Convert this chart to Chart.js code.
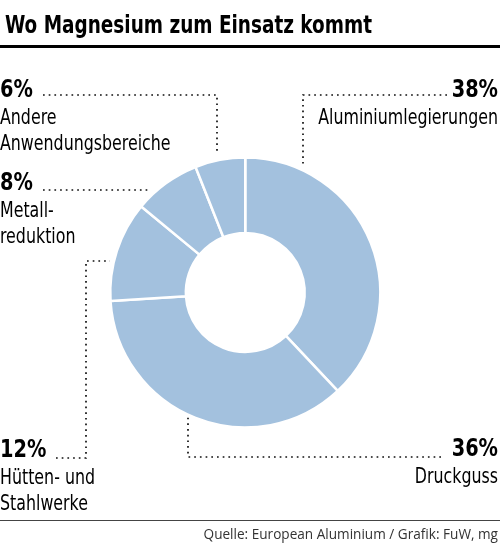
<!DOCTYPE html>
<html lang="de">
<head>
<meta charset="utf-8">
<script src="https://cdn.jsdelivr.net/npm/chart.js@4.4.1/dist/chart.umd.min.js"></script>
<style>
  html, body { margin: 0; padding: 0; background: #fff; }
  #wrap { position: relative; width: 500px; height: 545px; overflow: hidden; }
  #wrap canvas { position: absolute; left: 0; top: 0; }
  .title {
    position: absolute; left: 0; top: 0; width: 500px; height: 45px;
    border-bottom: 3px solid #000; box-sizing: content-box;
  }
  .title span {
    position: absolute; left: 5px; top: 12px;
    font: bold 25px/25px "Liberation Sans Narrow", "DejaVu Sans Condensed", sans-serif;
    color: #000; white-space: nowrap;
    transform: scaleX(0.82); transform-origin: 0 0;
  }
  .source {
    position: absolute; left: 0; top: 520px; width: 500px; height: 25px;
    border-top: 1.5px solid #444;
  }
  .source span {
    position: absolute; right: 2px; top: 6px;
    font: 13.6px/14px "Open Sans", sans-serif; color: #333; white-space: nowrap;
  }
</style>
</head>
<body>
<div id="wrap">
  <canvas id="magChart"></canvas>
  <div class="title"><span>Wo Magnesium zum Einsatz kommt</span></div>
  <div class="source"><span>Quelle: European Aluminium / Grafik: FuW, mg</span></div>
</div>
<script>
// Anteile in Prozent, im Uhrzeigersinn ab 12 Uhr
const categories = [
  ["Aluminiumlegierungen"],
  ["Druckguss"],
  ["Hütten- und", "Stahlwerke"],
  ["Metall-", "reduktion"],
  ["Andere", "Anwendungsbereiche"]
];
const shares = [38, 36, 12, 8, 6];

const sliceColor = "#a3c1de";
const narrow = '"Liberation Sans Narrow", "DejaVu Sans Condensed", sans-serif';

// Beschriftung + gepunktete Hinweislinien (Reihenfolge wie die Daten)
const callouts = [
  { align: "right", x: 498, y: 97,  path: [[447, 95], [303, 95]], to: "down", gap: 5 },
  { align: "right", x: 498, y: 456, path: [[441, 457], [188, 457]], to: "up", gap: 3 },
  { align: "left",  x: 0,   y: 457, path: [[56, 458], [86, 458], [86, 261]], to: "right", gap: 4 },
  { align: "left",  x: 0,   y: 190, path: [[43, 190]], to: "right", gap: 9 },
  { align: "left",  x: 0,   y: 97,  path: [[43, 95], [217, 95]], to: "down", gap: 8 }
];

// DejaVu Condensed ist breiter als die Originalschrift -> horizontal stauchen
function squeezedText(ctx, text, x, y, sx) {
  ctx.save();
  ctx.translate(x, y);
  ctx.scale(sx, 1);
  ctx.fillText(text, 0, 0);
  ctx.restore();
}

const calloutPlugin = {
  id: "callouts",
  afterDatasetsDraw(chart) {
    const meta = chart.getDatasetMeta(0);
    const ctx = chart.ctx;
    meta.data.forEach((arc, i) => {
      const c = callouts[i];
      if (!c) return;
      const cx = arc.x, cy = arc.y, r = arc.outerRadius;
      const pts = c.path.slice();
      const [px, py] = pts[pts.length - 1];
      // letzter Abschnitt endet kurz vor dem Ring
      if (c.to === "down") pts.push([px, cy - Math.sqrt(r * r - (px - cx) ** 2) - c.gap]);
      if (c.to === "up") pts.push([px, cy + Math.sqrt(r * r - (px - cx) ** 2) + c.gap]);
      if (c.to === "right") pts.push([cx - Math.sqrt(r * r - (py - cy) ** 2) - c.gap, py]);

      ctx.save();
      ctx.strokeStyle = "#111";
      ctx.lineWidth = 1.7;
      ctx.setLineDash([1.7, 4]);
      ctx.beginPath();
      pts.forEach(([x, y], k) => (k ? ctx.lineTo(x, y) : ctx.moveTo(x, y)));
      ctx.stroke();
      ctx.restore();

      ctx.save();
      ctx.fillStyle = "#000";
      ctx.textAlign = c.align;
      ctx.textBaseline = "alphabetic";
      ctx.font = "bold 25px " + narrow;
      squeezedText(ctx, chart.data.datasets[0].data[i] + "%", c.x, c.y, 0.86);
      ctx.font = "22px " + narrow;
      chart.data.labels[i].forEach((line, k) => {
        squeezedText(ctx, line, c.x, c.y + 27 + k * 26, 0.8);
      });
      ctx.restore();
    });
  }
};

function renderChart() {
  const canvas = document.getElementById("magChart");
  if (typeof Chart === "undefined") {
    console.error("Chart.js is not loaded");
    return;
  }
  new Chart(canvas.getContext("2d"), {
    type: "doughnut",
    data: {
      labels: categories,
      datasets: [{
        data: shares,
        backgroundColor: sliceColor,
        borderColor: "#fff",
        borderWidth: 2.5
      }]
    },
    options: {
      responsive: true,
      maintainAspectRatio: false,
      animation: false,
      cutout: "44%",
      layout: { padding: { left: 109, right: 118.5, top: 156, bottom: 116 } },
      plugins: { legend: { display: false }, tooltip: { enabled: false } }
    },
    plugins: [calloutPlugin]
  });
}

document.addEventListener("DOMContentLoaded", renderChart);
</script>
</body>
</html>
